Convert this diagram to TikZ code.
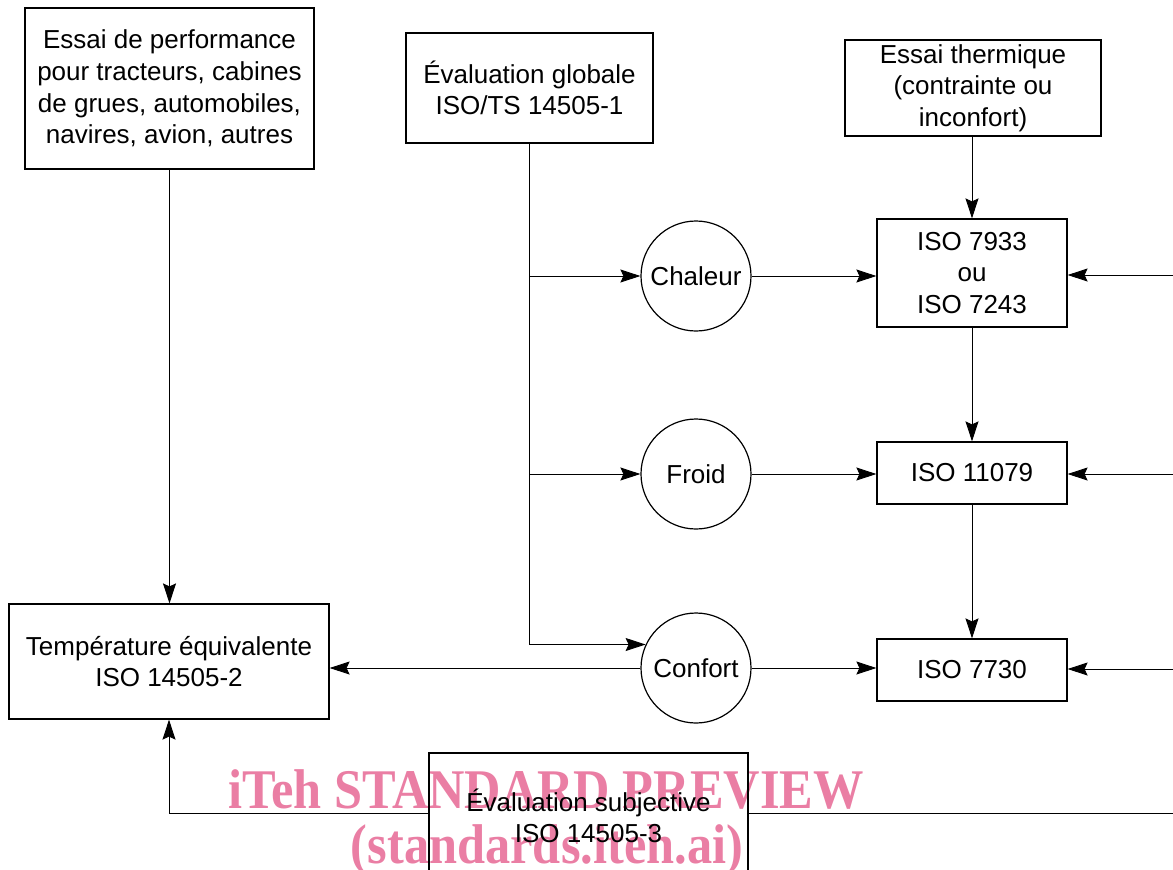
\documentclass[tikz,border=0pt]{standalone}
\usepackage{fontspec}
\setmainfont{Liberation Sans}
\newfontfamily\wmfont{Liberation Serif}
\usepackage{tikz}
\usetikzlibrary{arrows.meta, positioning, calc}
\definecolor{wmpink}{RGB}{234, 126, 164}

\begin{document}
\begin{tikzpicture}[
        x=0.5pt, y=-0.5pt,
        font=\fontsize{13pt}{15.8pt}\selectfont,
        box/.style={draw, line width=0.6pt, align=center, inner sep=0pt},
        circ/.style={draw, circle, line width=0.6pt, minimum size=55pt, inner sep=0pt},
        arr/.style={-{Stealth[length=10pt, width=6.5pt, inset=1.5pt]}, line width=0.45pt},
        wm/.style={text=wmpink, font=\wmfont\bfseries\fontsize{28pt}{30pt}\selectfont, xscale=0.9, transform shape, inner sep=0pt},
    ]
        \useasboundingbox (0,0) rectangle (1173,869);
        \clip (0,0) rectangle (1173,869);

        % Watermark, under everything else
        \node[wm, anchor=base] (wmtop) at (546,808) {iTeh STANDARD PREVIEW};
        \node[wm, anchor=base] (wmbot) at (547,863) {(standards.iteh.ai)};

        % Top row
        \node[box, minimum width=144.5pt, minimum height=80.5pt] (perf) at (169.5,88.5)
            {Essai de performance\\pour tracteurs, cabines\\de grues, automobiles,\\navires, avion, autres};
        \node[box, minimum width=123.5pt, minimum height=55pt] (globale) at (529.5,88)
            {Évaluation globale\\ISO/TS 14505-1};
        \node[box, minimum width=128pt, minimum height=48pt] (thermique) at (973,88)
            {Essai thermique\\(contrainte ou\\inconfort)};

        % Circles
        \node[circ] (chaleur) at (696,276) {Chaleur};
        \node[circ] (froid)   at (696,474) {Froid};
        \node[circ] (confort) at (696,668) {Confort};

        % Standards column
        \node[box, minimum width=95pt, minimum height=54pt] (iso7933)  at (972,273) {ISO 7933\\ou\\ISO 7243};
        \node[box, minimum width=95pt, minimum height=31pt] (iso11079) at (972,473) {ISO 11079};
        \node[box, minimum width=95pt, minimum height=31pt] (iso7730)  at (972,670) {ISO 7730};

        % Left and bottom
        \node[box, minimum width=160pt, minimum height=57.5pt] (temp) at (169,661.5)
            {Température équivalente\\ISO 14505-2};
        \node[box, minimum width=159.5pt, minimum height=63pt] (subj) at (588.5,816)
            {Évaluation subjective\\ISO 14505-3};

        % Free ends beyond the right edge
        \coordinate (r1) at (1190,275);
        \coordinate (r2) at (1190,474);
        \coordinate (r3) at (1190,669);
        \coordinate (r4) at (1190,813);

        % Connectors
        \draw[arr] (perf.south) -- (perf.south |- temp.north);
        \draw[arr] (globale.south) |- (confort.155);
        \draw[arr] (globale.south |- chaleur.west) -- (chaleur.west);
        \draw[arr] (globale.south |- froid.west) -- (froid.west);
        \draw[arr] (confort.west) -- (temp.east |- confort.west);
        \draw[arr] (chaleur.east) -- (iso7933.west |- chaleur.east);
        \draw[arr] (froid.east) -- (iso11079.west |- froid.east);
        \draw[arr] (confort.east) -- (iso7730.west |- confort.east);
        \draw[arr] (thermique.south -| iso7933.north) -- (iso7933.north);
        \draw[arr] (iso7933) -- (iso11079);
        \draw[arr] (iso11079) -- (iso7730);
        \draw[arr] (r1) -- (iso7933.east |- r1);
        \draw[arr] (r2) -- (iso11079.east |- r2);
        \draw[arr] (r3) -- (iso7730.east |- r3);
        \draw (subj.east |- r4) -- (r4);
        \draw[arr] (subj.west |- r4) -| (temp.south);
    \end{tikzpicture}
\end{document}
